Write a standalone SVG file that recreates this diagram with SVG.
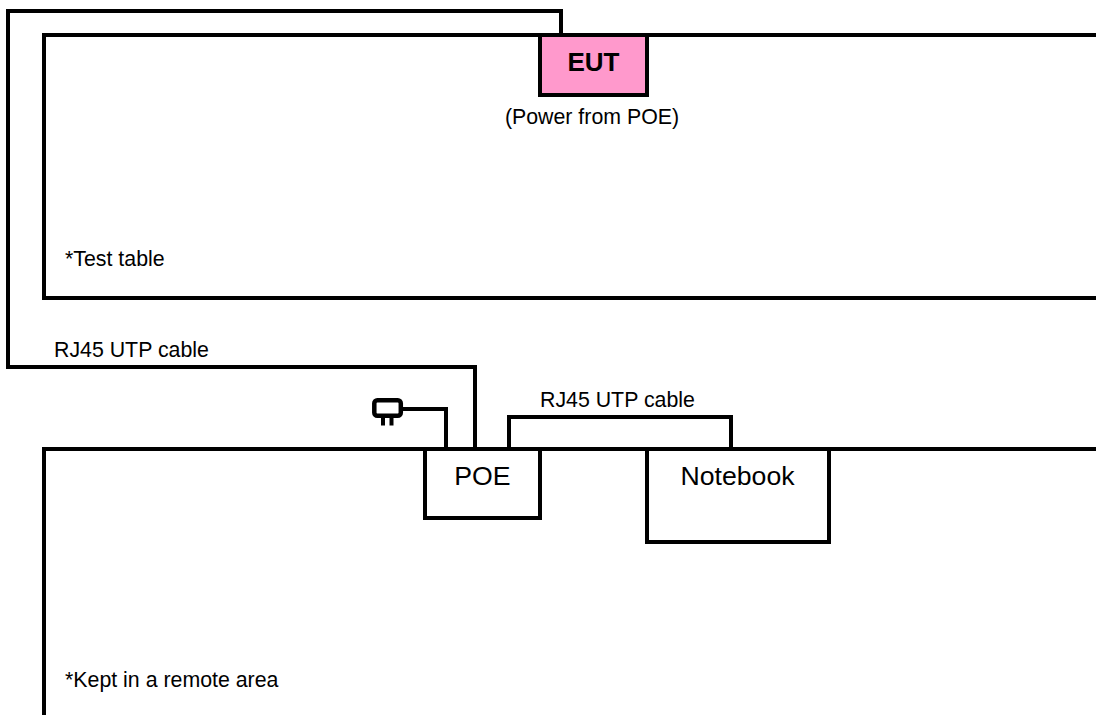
<svg xmlns="http://www.w3.org/2000/svg" width="1096" height="715" viewBox="0 0 1096 715">
<style>
.l{fill:none;stroke:#000;stroke-width:4}
.t{font-family:"Liberation Sans",Arial,sans-serif;fill:#000}
.s{font-size:21.33px}
.m{font-size:26.67px}
</style>
<rect width="1096" height="715" fill="#fff"/>
<g id="connectors">
<path class="l" d="M561 34V11H8V367H475V450"/>
<path class="l" d="M446 450V409H402"/>
<path class="l" d="M509 450V417H731V450"/>
</g>
<g id="test-table">
<path class="l" d="M1096 35H44V298H1096"/>
<text class="t s" x="65" y="266">*Test table</text>
</g>
<g id="remote-area">
<path class="l" d="M1096 449H44V715"/>
<text class="t s" x="65" y="687">*Kept in a remote area</text>
</g>
<g id="eut">
<rect x="540" y="35" width="107" height="60" fill="#ff99cc" stroke="#000" stroke-width="4"/>
<text class="t" x="593.500" y="71" text-anchor="middle" font-weight="bold" font-size="26px">EUT</text>
<text class="t s" x="592" y="124" text-anchor="middle">(Power from POE)</text>
</g>
<g id="poe">
<rect x="425" y="449" width="115" height="69" fill="#fff" stroke="#000" stroke-width="4"/>
<text class="t m" x="482.500" y="485" text-anchor="middle">POE</text>
</g>
<g id="notebook">
<rect x="647" y="449" width="182" height="93" fill="#fff" stroke="#000" stroke-width="4"/>
<text class="t m" x="737.500" y="485" text-anchor="middle">Notebook</text>
</g>
<g id="plug">
<rect x="374.300" y="400.300" width="26.500" height="15.500" rx="3" fill="#fff" stroke="#000" stroke-width="4.500"/>
<path d="M383 416V425.500M391.500 416V425.500" fill="none" stroke="#000" stroke-width="4"/>
</g>
<g id="labels">
<text class="t s" x="54" y="357">RJ45 UTP cable</text>
<text class="t s" x="540" y="407">RJ45 UTP cable</text>
</g>
</svg>
